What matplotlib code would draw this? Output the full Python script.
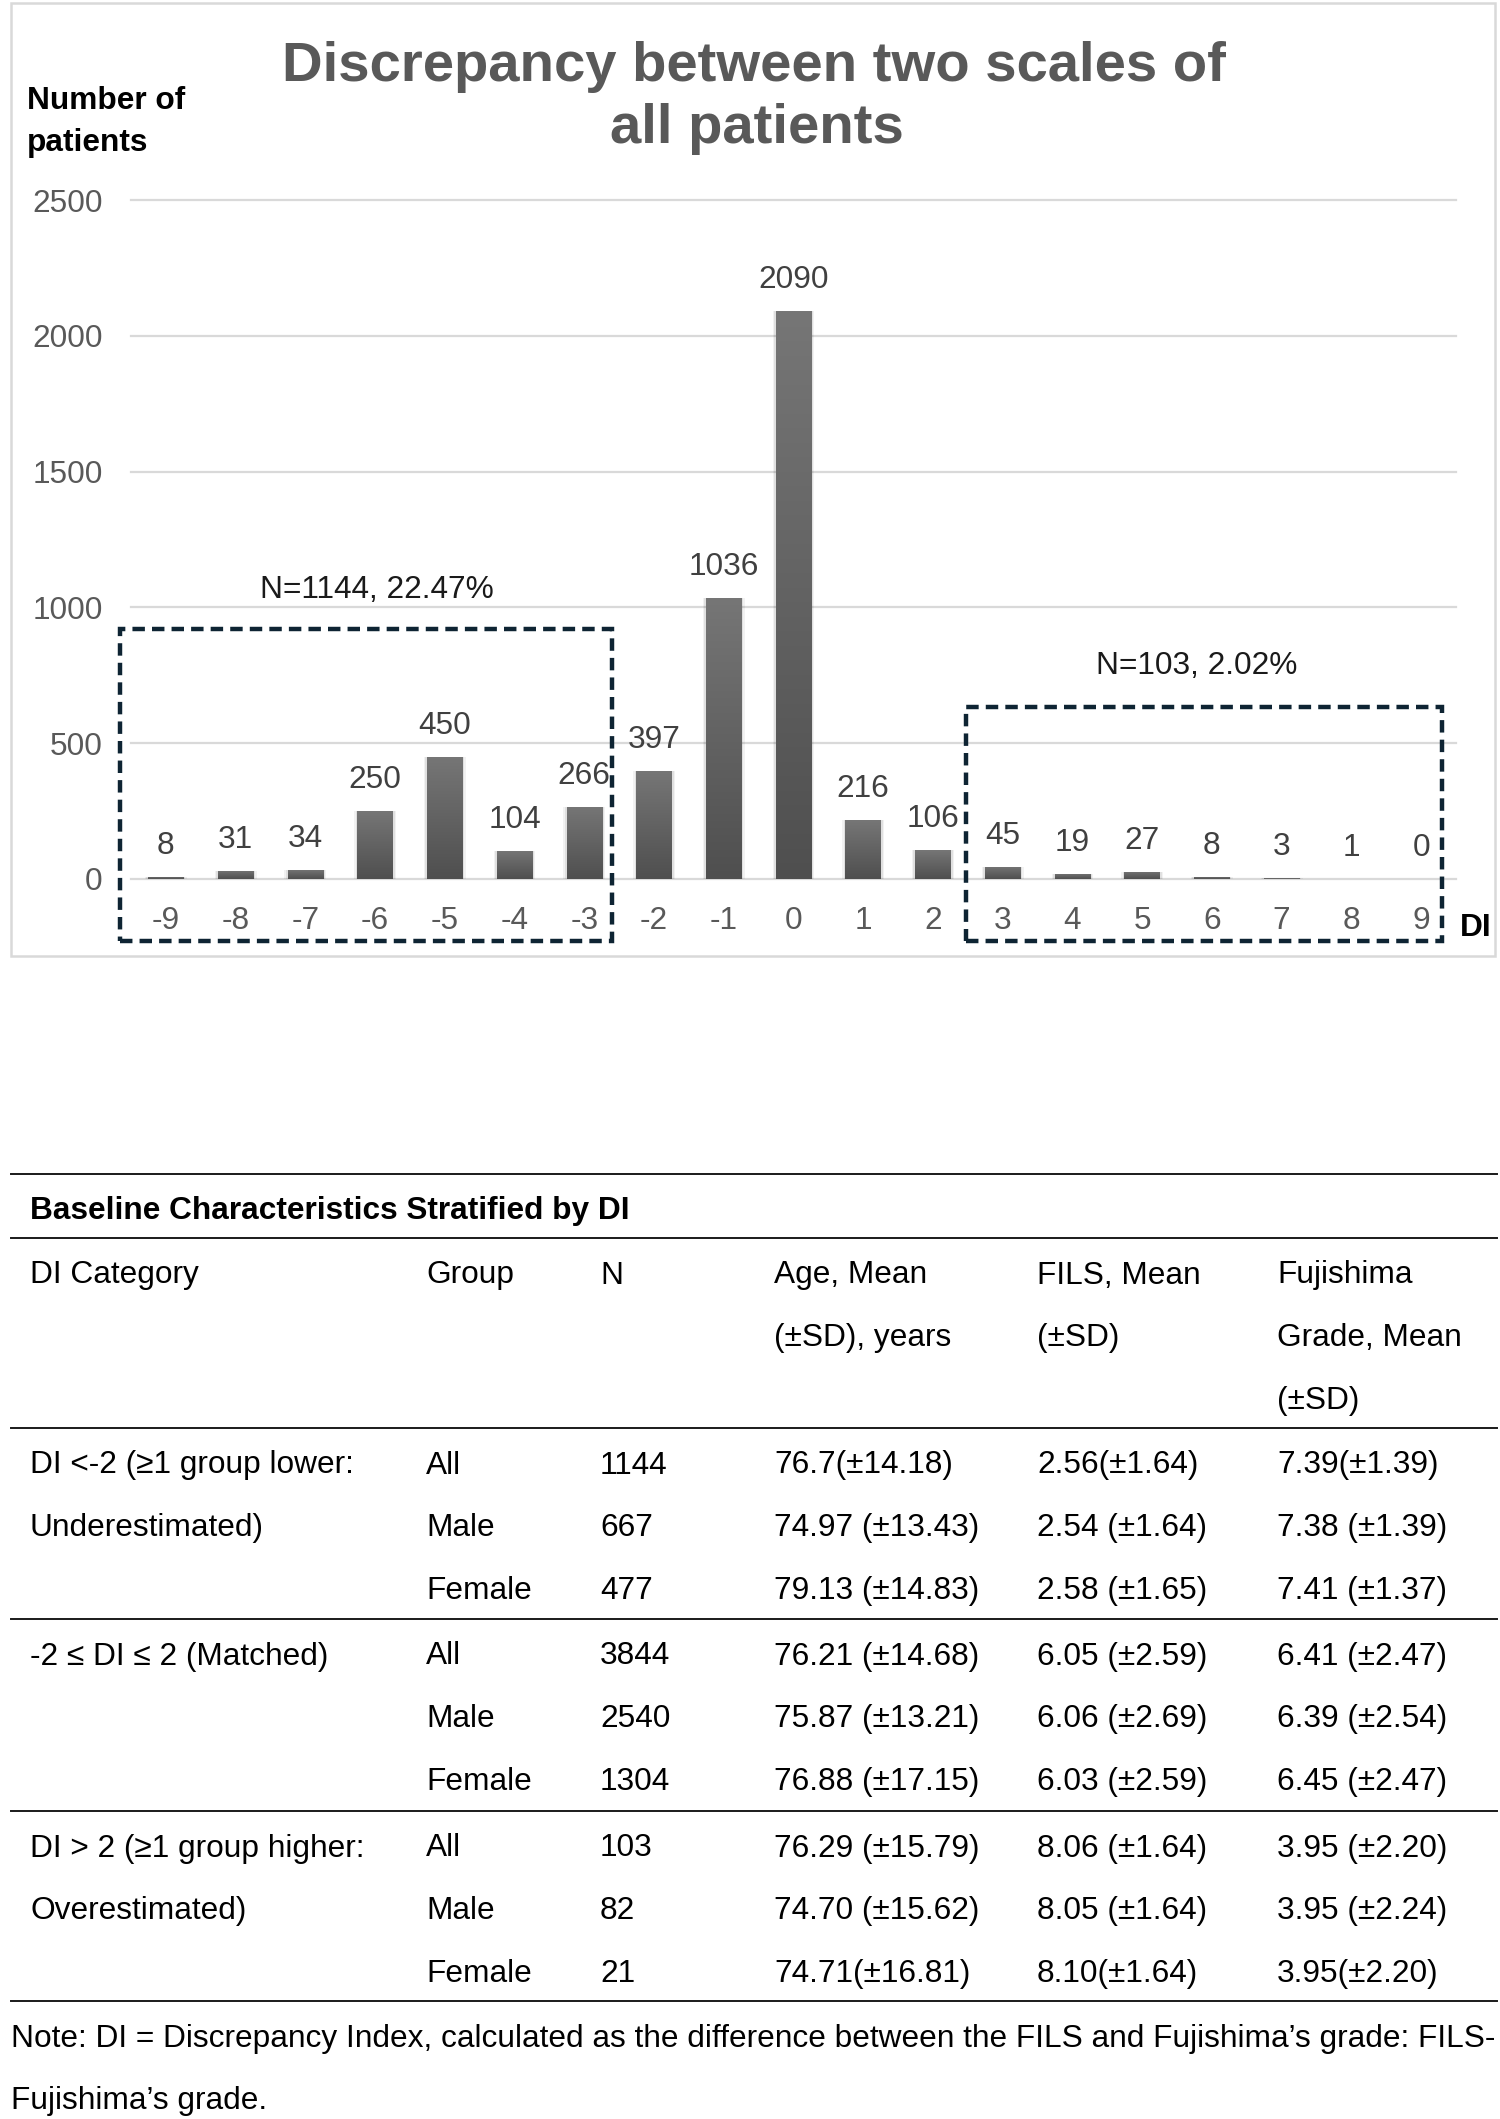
import numpy as np
import matplotlib
matplotlib.use("Agg")
import matplotlib.pyplot as plt
from matplotlib.patches import Rectangle
from matplotlib.lines import Line2D
from matplotlib.colors import LinearSegmentedColormap

plt.rcParams['font.family'] = ['Liberation Sans', 'DejaVu Sans']

# ---------------- data ----------------
di_values = [-9, -8, -7, -6, -5, -4, -3, -2, -1, 0, 1, 2, 3, 4, 5, 6, 7, 8, 9]
patient_counts = [8, 31, 34, 250, 450, 104, 266, 397, 1036, 2090, 216, 106,
                  45, 19, 27, 8, 3, 1, 0]
y_ticks = [0, 500, 1000, 1500, 2000, 2500]
under_label = "N=1144, 22.47%"
over_label = "N=103, 2.02%"

table_title = "Baseline Characteristics Stratified by DI"
header_cells = ["DI Category", "Group", "N", "Age, Mean\n(±SD), years",
                "FILS, Mean\n(±SD)", "Fujishima\nGrade, Mean\n(±SD)"]
di_categories = ["DI <-2 (≥1 group lower:\nUnderestimated)",
                 "-2 ≤ DI ≤ 2 (Matched)",
                 "DI > 2 (≥1 group higher:\nOverestimated)"]
groups = ["All", "Male", "Female"]
n_values = [[1144, 667, 477], [3844, 2540, 1304], [103, 82, 21]]
age_values = [["76.7(±14.18)", "74.97 (±13.43)", "79.13 (±14.83)"],
              ["76.21 (±14.68)", "75.87 (±13.21)", "76.88 (±17.15)"],
              ["76.29 (±15.79)", "74.70 (±15.62)", "74.71(±16.81)"]]
fils_values = [["2.56(±1.64)", "2.54 (±1.64)", "2.58 (±1.65)"],
               ["6.05 (±2.59)", "6.06 (±2.69)", "6.03 (±2.59)"],
               ["8.06 (±1.64)", "8.05 (±1.64)", "8.10(±1.64)"]]
fuji_values = [["7.39(±1.39)", "7.38 (±1.39)", "7.41 (±1.37)"],
               ["6.41 (±2.47)", "6.39 (±2.54)", "6.45 (±2.47)"],
               ["3.95 (±2.20)", "3.95 (±2.24)", "3.95(±2.20)"]]
note_lines = ["Note: DI = Discrepancy Index, calculated as the difference between the FILS and Fujishima’s grade: FILS-",
              "Fujishima’s grade."]

# ---------------- figure ----------------
W, H = 1500, 2119
FS = 22.8
fig = plt.figure(figsize=(W / 100, H / 100), dpi=100)
fig.patch.set_facecolor("white")


def fx(px):
    return px / W


def fy(py):
    return 1 - py / H


# chart border
fig.add_artist(Rectangle((fx(11), fy(956)), (1495 - 11) / W, (956 - 3) / H,
                         transform=fig.transFigure, fill=False,
                         ec="#d9d9d9", lw=1.8))

ax = fig.add_axes([fx(131), fy(879), (1456 - 131) / W, (879 - 200) / H])
ax.set_xlim(-9.5, 9.5)
ax.set_ylim(0, 2500)
for s in ax.spines.values():
    s.set_visible(False)
ax.set_yticks(y_ticks)
ax.set_xticks(di_values)
ax.set_xticklabels([str(v) for v in di_values])
ax.grid(axis="y", color="#d9d9d9", lw=1.6, clip_on=False)
ax.set_axisbelow(True)
ax.tick_params(axis="both", length=0, labelsize=FS, labelcolor="#595959")
ax.tick_params(axis="x", pad=19.5)
ax.tick_params(axis="y", pad=20.5)

# soft shadows
ax.bar(di_values, patient_counts, width=0.60, color="#000000", alpha=0.05, zorder=2)
ax.bar(di_values, patient_counts, width=0.56, color="#000000", alpha=0.07, zorder=2)
bars = ax.bar(di_values, patient_counts, width=0.51, color="#606060", zorder=3)

cmap = LinearSegmentedColormap.from_list("g", ["#4f4f4f", "#767676"])
grad = np.linspace(0, 1, 256).reshape(-1, 1)
for b in bars:
    h = b.get_height()
    if h <= 0:
        continue
    x0 = b.get_x()
    im = ax.imshow(grad, extent=[x0, x0 + b.get_width(), 0, h], origin="lower",
                   cmap=cmap, aspect="auto", zorder=4, interpolation="bilinear")
    im.set_clip_path(b)
ax.set_xlim(-9.5, 9.5)
ax.set_ylim(0, 2500)

for x, v in zip(di_values, patient_counts):
    ax.annotate(str(v), (x, v), xytext=(0, 16.5), textcoords="offset points",
                ha="center", va="baseline", fontsize=FS, color="#404040", zorder=6)

# dashed group boxes
box_style = dict(fill=False, ec="#0e2433", lw=3.2, linestyle=(0, (2.8, 1.6)),
                 clip_on=False, zorder=7)
ax.add_patch(Rectangle((-9.663, -228), -2.597 + 9.663, 920 + 228, **box_style))
ax.add_patch(Rectangle((2.48, -228), 9.298 - 2.48, 633 + 228, **box_style))
ax.text(-5.97, 1035, under_label, ha="center", va="baseline", fontsize=FS, color="#1a1a1a")
ax.text(5.78, 756, over_label, ha="center", va="baseline", fontsize=FS, color="#1a1a1a")

# axis names
ax.text(fx(1460), fy(936), "DI", transform=fig.transFigure, ha="left", va="baseline",
        fontsize=FS, fontweight="bold", color="#000000")
fig.text(fx(27), fy(109), "Number of", ha="left", va="baseline", fontsize=FS,
         fontweight="bold", color="#000000")
fig.text(fx(27), fy(151), "patients", ha="left", va="baseline", fontsize=FS,
         fontweight="bold", color="#000000")

# title
fig.text(fx(754), fy(81), "Discrepancy between two scales of", ha="center",
         va="baseline", fontsize=40.5, fontweight="bold", color="#595959")
fig.text(fx(757), fy(143), "all patients", ha="center",
         va="baseline", fontsize=40.5, fontweight="bold", color="#595959")

# ---------------- table ----------------
def hline(py, lw=1.4):
    fig.add_artist(Line2D([fx(11), fx(1497)], [fy(py), fy(py)],
                          transform=fig.transFigure, color="#1a1a1a", lw=lw))


def cell(px, py, s, bold=False):
    # py is the vertical centre of capitals, baseline = centre + half cap height
    fig.text(fx(px), fy(py + 11.5), s, ha="left", va="baseline", fontsize=FS,
             fontweight="bold" if bold else "normal", color="#000000")


col_x = [30, 426, 600, 774, 1037, 1277]
line_gap = 62.8

for py in [1174, 1238, 1428, 1619, 1811, 2001]:
    hline(py)

cell(30, 1207, table_title, bold=True)

for cx, txt in zip(col_x, header_cells):
    for k, ln in enumerate(txt.split("\n")):
        cell(cx, 1272 + k * line_gap, ln)

block_first = [1462, 1653, 1845]
for b, cat in enumerate(di_categories):
    y0 = block_first[b]
    for k, ln in enumerate(cat.split("\n")):
        cell(col_x[0], y0 + k * line_gap, ln)
    for r in range(3):
        yy = y0 + r * line_gap
        cell(col_x[1], yy, groups[r])
        cell(col_x[2], yy, str(n_values[b][r]))
        cell(col_x[3], yy, age_values[b][r])
        cell(col_x[4], yy, fils_values[b][r])
        cell(col_x[5], yy, fuji_values[b][r])

cell(11, 2035, note_lines[0])
cell(11, 2097, note_lines[1])

fig.savefig("out.png", dpi=100, facecolor="white")
